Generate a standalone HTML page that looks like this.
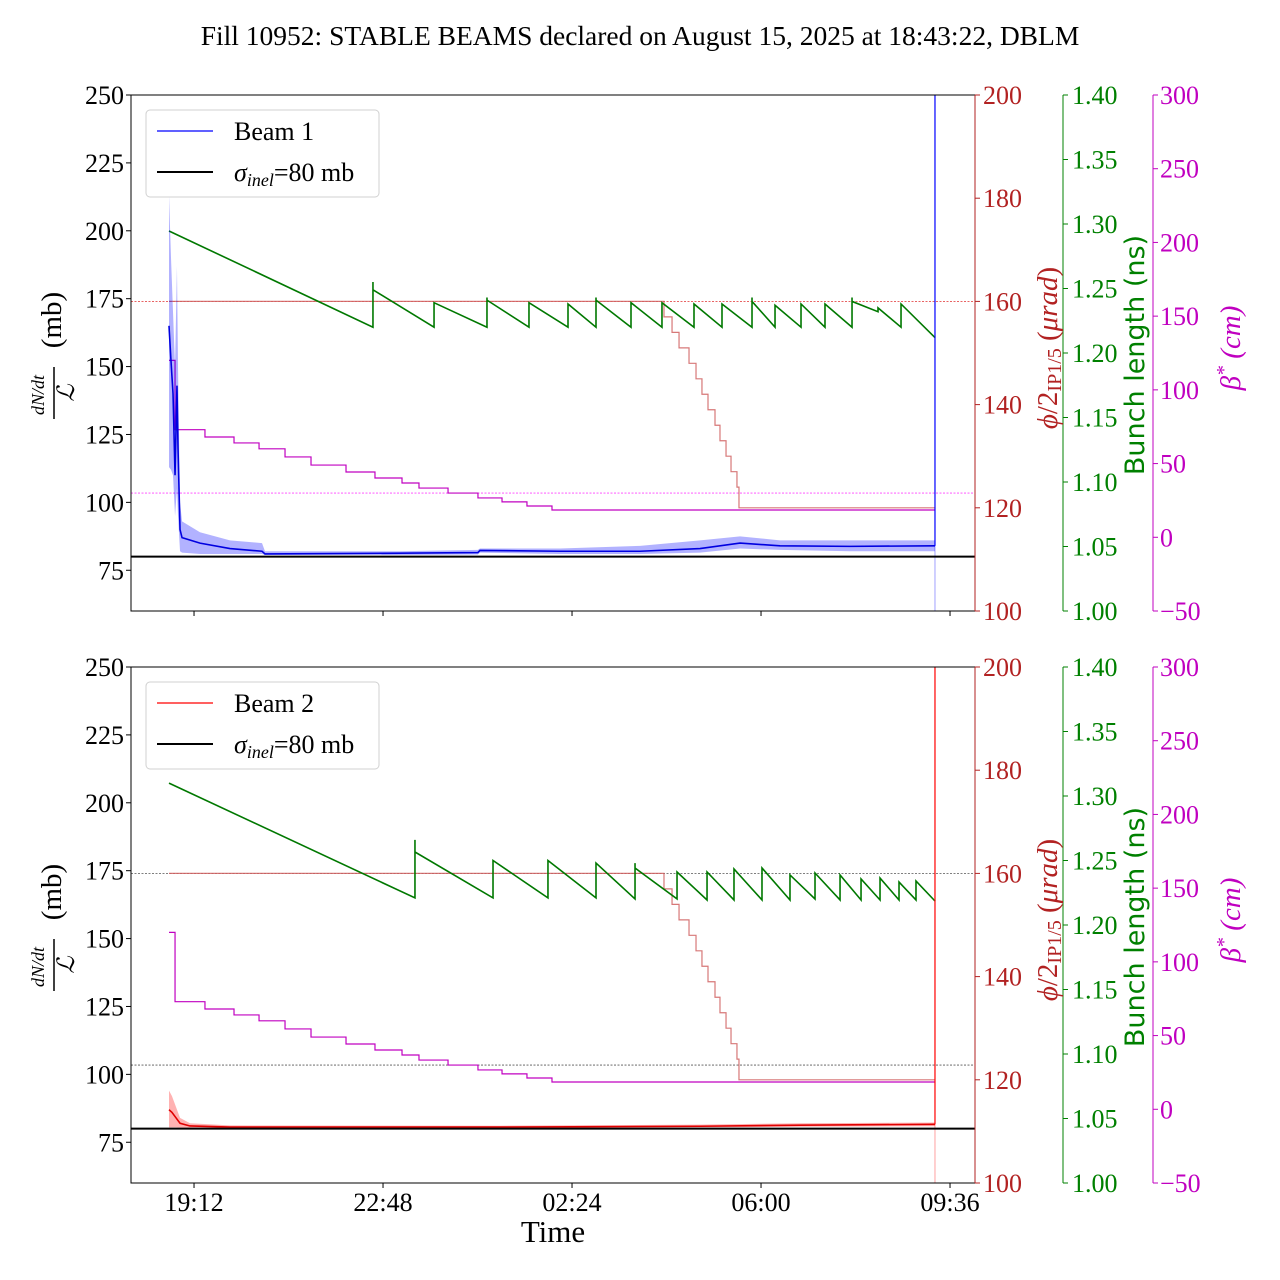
<!DOCTYPE html>
<html><head><meta charset="utf-8"><style>
html,body{margin:0;padding:0;background:#fff;}
svg{display:block;font-family:"Liberation Serif","DejaVu Serif",serif;}
</style></head><body>
<svg id="fig" width="1280" height="1280" viewBox="0 0 1280 1280" xmlns="http://www.w3.org/2000/svg">
<text x="640" y="45" font-size="27.5" text-anchor="middle">Fill 10952: STABLE BEAMS declared on August 15, 2025 at 18:43:22, DBLM</text>
<text x="553" y="1242" font-size="31" text-anchor="middle">Time</text>
</svg>
<script>
// ---- data (time in minutes after stable beams 18:43) ----
const xTickLabels = ["19:12","22:48","02:24","06:00","09:36"];
const xTickMinutes = [28.6, 244.6, 460.6, 676.6, 892.6];
const endMinute = 875.4;
const leftTicks = [75,100,125,150,175,200,225,250];
const redTicks = [100,120,140,160,180,200];
const greenTicks = [1.00,1.05,1.10,1.15,1.20,1.25,1.30,1.35,1.40];
const magTicks = [-50,0,50,100,150,200,250,300];

// Beam 1 dN/dt
const b1T = [0,2.3,4.6,6.9,9.1,10.3,12.6,14.9,35.4,69.7,106.3,109.7,264,353,355.4,446.9,538.3,606.9,652.6,698.3,778.3,875.4];
const b1Mean = [165,152,140,110,143,120,90,87,85,83,82,81,81.3,81.5,82.3,82,82,83,85,84,83.8,84];
const b1Up = [213,190,170,150,187,150,100,93,89,86,85,82,82,82.5,83,83,84,86,87.5,86,86,86];
const b1Lo = [113,112,110,95,105,95,82,81.5,81,81,81,80.6,80.6,80.8,81.5,81,81,81.5,83,82.5,82,82];
// Beam 2 dN/dt
const b2T = [0,3.4,8,12.6,24,69.7,378.3,606.9,721.1,875.4];
const b2Mean = [87,86,84,82,81,80.6,80.6,80.9,81.3,81.6];
const b2Up = [94,92,88,84,82,81.2,81.1,81.5,82,82.3];
const b2Lo = [80.5,80.5,80.5,80.4,80.3,80.3,80.3,80.5,80.7,80.9];

// bunch length sawtooth (ns)
const g1Start = 1.2946, g1End = 1.212;
const g1T = [233.1,302.9,363.4,411.4,456,488,528,563.4,600,632,666.3,692.6,722.3,749.7,780.6,810.3,836.6];
const g1Lo = [1.220,1.220,1.220,1.220,1.220,1.220,1.220,1.220,1.220,1.220,1.220,1.220,1.220,1.220,1.220,1.232,1.220];
const g1Hi = [1.249,1.239,1.241,1.239,1.238,1.241,1.239,1.239,1.238,1.238,1.240,1.237,1.238,1.238,1.240,1.235,1.238];
const g1Spike = [1.255,1.239,1.243,1.239,1.238,1.243,1.239,1.239,1.238,1.238,1.243,1.237,1.238,1.238,1.243,1.235,1.238];
const g2Start = 1.310, g2End = 1.2186;
const g2T = [281.1,370.3,433.1,488,532.6,580.6,614.9,645.7,677.7,709.7,738.3,766.9,790.9,812.6,834.3,853.7];
const g2Lo = [1.221,1.221,1.221,1.221,1.2202,1.2202,1.2194,1.2194,1.2194,1.2194,1.2202,1.2194,1.2194,1.2194,1.2194,1.2194];
const g2Hi = [1.2566,1.250,1.250,1.248,1.2442,1.2411,1.2411,1.2434,1.2442,1.2388,1.2403,1.2388,1.2357,1.2364,1.2333,1.2341];
const g2Spike = [1.266,1.250,1.250,1.248,1.248,1.2411,1.2411,1.2434,1.2442,1.2388,1.2403,1.2388,1.2357,1.2364,1.2333,1.2341];

// crossing angle (urad) steps
const xaStart = 160;
const xaT = [565.7,574.9,582.9,594.3,602.3,609.1,616,624,629.7,636.6,642.3,649.1,651.4];
const xaV = [157,154,151,148,145,142,139,136,133,130,127,124,120];
// beta* (cm) steps
const bsStart = 120;
const bsT = [6.9,41.1,74.3,102.9,132.6,162.3,202.3,235.4,266.3,285.7,318.9,353.1,380.6,409.1,437.7];
const bsV = [73,68,64,60,54.5,49,44.3,40.2,36.8,33.4,30,26.7,24,21.2,18.5];
const refXa = 160, refBs = 30;

// ---- drawing ----
const NS="http://www.w3.org/2000/svg";
const svg=document.getElementById('fig');
function el(tag,attrs,parent){const e=document.createElementNS(NS,tag);for(const k in attrs)e.setAttribute(k,attrs[k]);(parent||svg).appendChild(e);return e;}
const X0=131,X1=975;
const xS=m=>169+m*0.875;
const FS=26;

function panel(top,beam){
  const bot=top+516, H=516;
  const yL=v=>bot-(v-60)/190*H;
  const yR=v=>bot-(v-100)/100*H;
  const yG=v=>bot-(v-1.0)/0.4*H;
  const yM=v=>bot-(v+50)/350*H;
  const g=el('g',{});
  
  
  const isB1=beam===1;
  const col=isB1?'#0000ff':'#ff0000';
  const r1=el('line',{x1:X0,x2:X1,y1:yR(refXa),y2:yR(refXa),stroke:isB1?'#e03030':'#555','stroke-width':0.8,'stroke-dasharray':'2,1.5'},g);
  
  
  const r2=el('line',{x1:X0,x2:X1,y1:yM(refBs),y2:yM(refBs),stroke:isB1?'#ff40ff':'#555','stroke-width':0.8,'stroke-dasharray':'2,1.5'},g);
  
  
  let p=`M${xS(0)},${yR(xaStart)}`;let last=xaStart;
  xaT.forEach((t,i)=>{p+=`L${xS(t)},${yR(last)}L${xS(t)},${yR(xaV[i])}`;last=xaV[i];});
  p+=`L${xS(endMinute)},${yR(last)}`;
  const xa=el('path',{d:p,fill:'none',stroke:'#d06060','stroke-width':1.2,opacity:0.85},g);
  
  
  p=`M${xS(0)},${yM(bsStart)}`;last=bsStart;
  bsT.forEach((t,i)=>{p+=`L${xS(t)},${yM(last)}L${xS(t)},${yM(bsV[i])}`;last=bsV[i];});
  p+=`L${xS(endMinute)},${yM(last)}`;
  const bs=el('path',{d:p,fill:'none',stroke:'#c000c0','stroke-width':1.2},g);
  
  
  const T=isB1?g1T:g2T,Lo=isB1?g1Lo:g2Lo,Hi=isB1?g1Hi:g2Hi,Sp=isB1?g1Spike:g2Spike;
  p=`M${xS(0)},${yG(isB1?g1Start:g2Start)}`;
  T.forEach((t,i)=>{p+=`L${xS(t)},${yG(Lo[i])}L${xS(t)},${yG(Sp[i])}L${xS(t)},${yG(Hi[i])}`;});
  p+=`L${xS(endMinute)},${yG(isB1?g1End:g2End)}`;
  const gb=el('path',{d:p,fill:'none',stroke:'#007800','stroke-width':1.6},g);
  
  
  const bT=isB1?b1T:b2T,bU=isB1?b1Up:b2Up,bLo=isB1?b1Lo:b2Lo,bM=isB1?b1Mean:b2Mean;
  p='';bT.forEach((t,i)=>{p+=(i?'L':'M')+xS(t)+','+yL(bU[i]);});
  for(let i=bT.length-1;i>=0;i--)p+='L'+xS(bT[i])+','+yL(bLo[i]);
  const band=el('path',{d:p+'Z',fill:col,'fill-opacity':0.3,stroke:'none'},g);
  
  
  p='';bT.forEach((t,i)=>{p+=(i?'L':'M')+xS(t)+','+yL(bM[i]);});
  const ml=el('path',{d:p,fill:'none',stroke:isB1?'#0000e0':'#e00000','stroke-width':1.6},g);
  
  
  const vx=xS(endMinute);
  const ev=el('line',{x1:vx,x2:vx,y1:top,y2:yL(bM[bM.length-1]),stroke:col,'stroke-width':1.6,opacity:0.75},g);
  
  
  el('line',{x1:vx,x2:vx,y1:yL(bM[bM.length-1]),y2:bot,stroke:col,'stroke-width':1.2,opacity:0.3},g);
  const si=el('line',{x1:X0,x2:X1,y1:yL(80),y2:yL(80),stroke:'#000','stroke-width':2},g);
  
  
  el('path',{d:`M${X1},${top}H${X0}V${bot}H${X1}`,fill:'none',stroke:'#000','stroke-width':1},g);
  el('line',{x1:X1,x2:X1,y1:top,y2:bot,stroke:'#b22222','stroke-width':1},g);
  el('line',{x1:1063,x2:1063,y1:top,y2:bot,stroke:'#008000','stroke-width':1},g);
  el('line',{x1:1153,x2:1153,y1:top,y2:bot,stroke:'#c000c0','stroke-width':1},g);
  leftTicks.forEach(v=>{const y=yL(v);el('line',{x1:X0-5,x2:X0,y1:y,y2:y,stroke:'#000'},g);
    const t=el('text',{x:X0-7,y:y+9,'font-size':FS,'text-anchor':'end'},g);t.textContent=v;
    
    });
  redTicks.forEach(v=>{const y=yR(v);el('line',{x1:X1,x2:X1+5,y1:y,y2:y,stroke:'#b22222'},g);
    const t=el('text',{x:X1+8,y:y+9,'font-size':FS,fill:'#b22222'},g);t.textContent=v;
    
    });
  greenTicks.forEach(v=>{const y=yG(v);el('line',{x1:1063,x2:1068,y1:y,y2:y,stroke:'#008000'},g);
    const t=el('text',{x:1072,y:y+9,'font-size':FS,fill:'#008000'},g);t.textContent=v.toFixed(2);
    
    });
  magTicks.forEach(v=>{const y=yM(v);el('line',{x1:1153,x2:1158,y1:y,y2:y,stroke:'#c000c0'},g);
    const t=el('text',{x:1160,y:y+9,'font-size':FS,fill:'#c000c0'},g);t.textContent=String(v).replace('-','\u2212');
    
    });
  xTickMinutes.forEach((m,i)=>{const x=xS(m);el('line',{x1:x,x2:x,y1:bot,y2:bot+5,stroke:'#000'},g);
    if(!isB1){const t=el('text',{x:x,y:bot+28,'font-size':FS,'text-anchor':'middle'},g);t.textContent=xTickLabels[i];
      
      }});
  const cy=top+258;
  const lt=el('g',{transform:`translate(0,${cy}) rotate(-90)`},g);
  
  
  let t=el('text',{x:-42,y:44,'font-size':18,'font-style':'italic','text-anchor':'middle'},lt);t.textContent='dN/dt';
  el('line',{x1:-66,x2:-14,y1:54,y2:54,stroke:'#000','stroke-width':1.5},lt);
  t=el('text',{x:-40,y:74,'font-size':24,'font-style':'italic','text-anchor':'middle'},lt);t.textContent='\u2112';
  t=el('text',{x:33,y:61,'font-size':29,'text-anchor':'middle'},lt);t.textContent='(mb)';
  const rt=el('text',{transform:`translate(1057,${cy-5}) rotate(-90)`,'font-size':29,'text-anchor':'middle',fill:'#b22222'},g);
  
  
  rt.innerHTML='<tspan font-style="italic">\u03d5</tspan>/2<tspan font-size="20" dy="4">IP1/5</tspan><tspan dy="-4"> (</tspan><tspan font-style="italic">\u03bcrad</tspan>)';
  const gt=el('text',{transform:`translate(1144,${cy+2}) rotate(-90)`,'font-size':27,'text-anchor':'middle',fill:'#008000','font-family':'DejaVu Sans, sans-serif'},g);
  gt.textContent='Bunch length (ns)';
  
  
  const mt=el('text',{transform:`translate(1240,${cy-5}) rotate(-90)`,'font-size':29,'text-anchor':'middle',fill:'#c000c0','font-style':'italic'},g);
  mt.innerHTML='\u03b2<tspan dy="-10" font-size="20">*</tspan><tspan dy="10"> (cm)</tspan>';
  
  
  const lg=el('g',{},g);
  
  
  el('rect',{x:146,y:top+15,width:233,height:87,rx:4,fill:'#fff','fill-opacity':0.85,stroke:'#d0d0d0'},lg);
  el('line',{x1:157,x2:213,y1:top+36,y2:top+36,stroke:col,'stroke-width':1.2},lg);
  t=el('text',{x:234,y:top+45,'font-size':26},lg);t.textContent='Beam '+beam;
  
  
  el('line',{x1:157,x2:213,y1:top+77,y2:top+77,stroke:'#000','stroke-width':2},lg);
  t=el('text',{x:234,y:top+86,'font-size':26},lg);
  t.innerHTML='<tspan font-style="italic">\u03c3</tspan><tspan font-style="italic" font-size="18" dy="5">inel</tspan><tspan dy="-5">=80 mb</tspan>';
  
  
}
panel(95,1);
panel(667,2);
</script>
</body></html>
